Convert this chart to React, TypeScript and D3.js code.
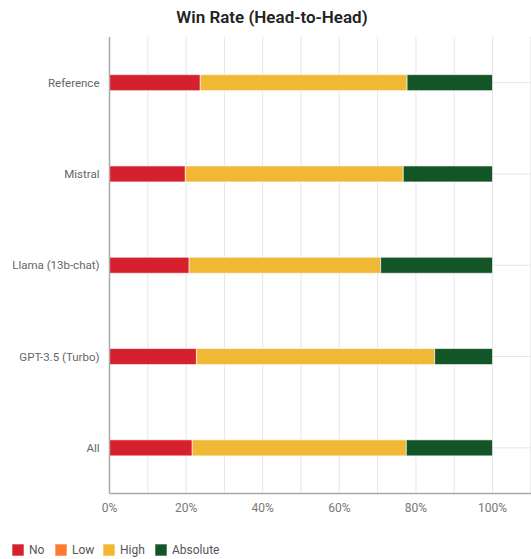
import React from 'react';
import * as d3 from 'd3';

const categories = ['Reference', 'Mistral', 'Llama (13b-chat)', 'GPT-3.5 (Turbo)', 'All'];
const seriesNames = ['No', 'Low', 'High', 'Absolute'];
const seriesColors = ['#d6202e', '#ff7a2e', '#f0b834', '#135527'];
// percentages per category, same order as categories
const noValues = [23.7, 19.8, 20.8, 22.7, 21.6];
const lowValues = [0, 0, 0, 0, 0];
const highValues = [54, 56.9, 50, 62.2, 55.9];
const absoluteValues = [22.3, 23.3, 29.2, 15.1, 22.5];
const xTicks = [0, 20, 40, 60, 80, 100];

const W = 531;
const H = 559;
const margin = { top: 37, right: 0, bottom: 66, left: 109.5 };

const App: React.FC = () => {
  const rows = categories.map((c, i) => ({
    name: c,
    No: noValues[i],
    Low: lowValues[i],
    High: highValues[i],
    Absolute: absoluteValues[i],
  }));
  const stacked = d3.stack<any>().keys(seriesNames)(rows);

  const x = d3.scaleLinear().domain([0, 100]).range([margin.left, 492.5]);
  const y = d3
    .scaleBand<string>()
    .domain(categories)
    .range([margin.top, H - margin.bottom + 0.5]);
  const barH = 16;
  const gridX = d3.range(0, 120, 10).filter((v) => x(v) <= W);
  const font = 'Roboto, "Noto Sans", sans-serif';
  const bottom = H - margin.bottom + 0.5;

  return (
    <svg
      width={W}
      height={H}
      style={{ position: 'absolute', left: 0, top: 0, background: '#fff' }}
      fontFamily={font}
    >
      <text x={272} y={23} textAnchor="middle" fontSize={17} fontWeight={600} fill="#222">
        Win Rate (Head-to-Head)
      </text>

      {/* vertical grid */}
      {gridX.map((v) => (
        <line key={`gx-${v}`} x1={x(v)} x2={x(v)} y1={margin.top} y2={bottom} stroke="#e6e6e6" strokeWidth={1} />
      ))}
      {/* horizontal grid at category centres */}
      {categories.map((c) => (
        <line
          key={`gy-${c}`}
          x1={margin.left}
          x2={W}
          y1={y(c)! + y.bandwidth() / 2}
          y2={y(c)! + y.bandwidth() / 2}
          stroke="#e6e6e6"
          strokeWidth={1}
        />
      ))}

      {/* bars */}
      {stacked.map((s, si) => (
        <g key={s.key} fill={seriesColors[si]}>
          {s.map((d, i) =>
            d[1] - d[0] > 0 ? (
              <rect
                key={i}
                x={x(d[0])}
                y={y(categories[i])! + y.bandwidth() / 2 - barH / 2}
                width={x(d[1]) - x(d[0])}
                height={barH}
                stroke="#fff"
                strokeOpacity={0.6}
                strokeWidth={1}
              />
            ) : null
          )}
        </g>
      ))}

      {/* axes */}
      <line x1={margin.left} x2={margin.left} y1={margin.top} y2={bottom} stroke="#aaa" strokeWidth={1.5} />
      <line x1={margin.left} x2={W} y1={bottom} y2={bottom} stroke="#aaa" strokeWidth={1.5} />

      {categories.map((c) => (
        <text
          key={`yl-${c}`}
          x={margin.left - 10}
          y={y(c)! + y.bandwidth() / 2}
          dy="0.35em"
          textAnchor="end"
          fontSize={11.5}
          fill="#666"
        >
          {c}
        </text>
      ))}
      {xTicks.map((t) => (
        <text key={`xl-${t}`} x={x(t)} y={512} textAnchor="middle" fontSize={12} fill="#777">
          {t}%
        </text>
      ))}

      {/* legend */}
      {(() => {
        const xs = [12, 55, 103, 155];
        return seriesNames.map((n, i) => (
          <g key={`lg-${n}`} transform={`translate(${xs[i]},544)`}>
            <rect width={12} height={12} fill={seriesColors[i]} stroke="#fff" strokeOpacity={0.6} />
            <text x={17} y={6} dy="0.35em" fontSize={12} fill="#555">
              {n}
            </text>
          </g>
        ));
      })()}
    </svg>
  );
};

export default App;
